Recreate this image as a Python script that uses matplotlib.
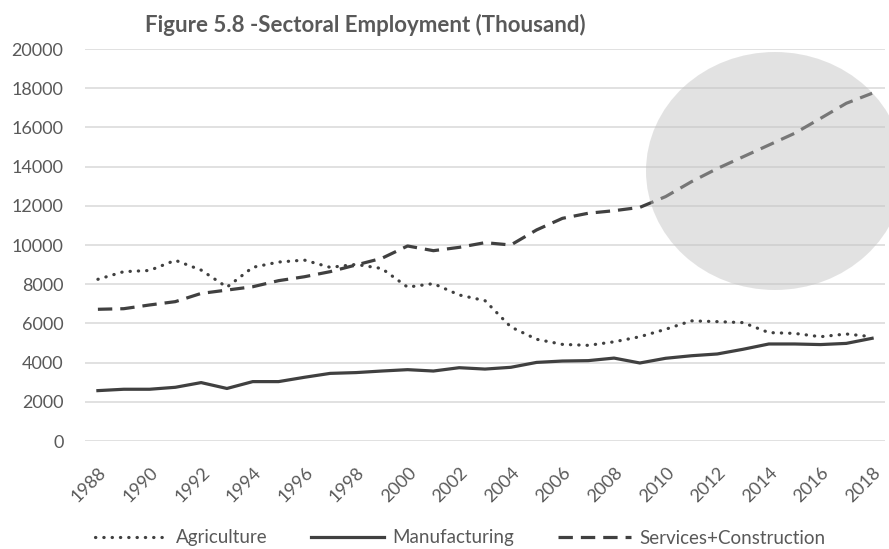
import matplotlib
matplotlib.use("Agg")
import matplotlib.pyplot as plt
import matplotlib.transforms as mtransforms
from matplotlib.patches import Ellipse

plt.rcParams['font.family'] = ['Lato', 'DejaVu Sans']

# Data (thousand persons)
years = list(range(1988, 2019))
agriculture = [8250, 8640, 8700, 9220, 8720, 7850, 8860, 9130, 9230, 8860,
               9010, 8800, 7850, 8030, 7450, 7160, 5820, 5190, 4930, 4880,
               5060, 5320, 5700, 6130, 6090, 6040, 5530, 5490, 5320, 5460, 5320]
manufacturing = [2570, 2640, 2640, 2740, 2980, 2680, 3030, 3030, 3250, 3450,
                 3490, 3570, 3640, 3570, 3740, 3670, 3760, 4010, 4080, 4100,
                 4230, 3980, 4220, 4350, 4440, 4680, 4950, 4950, 4920, 4980, 5240]
services = [6720, 6750, 6940, 7110, 7530, 7700, 7870, 8180, 8380, 8640,
            8980, 9320, 9950, 9710, 9880, 10120, 10000, 10770, 11360, 11620,
            11750, 11920, 12470, 13230, 13900, 14500, 15100, 15700, 16460, 17230, 17740]
yticks = list(range(0, 20001, 2000))

text_color = '#595959'
line_color = '#404040'

fig = plt.figure(figsize=(8.89, 5.49), dpi=100)
ax = fig.add_axes([85 / 889, 1 - 441 / 549, 800 / 889, 392 / 549])

x = list(range(len(years)))
lw = 2.3
ax.plot(x, agriculture, color=line_color, lw=lw, linestyle=(0, (0.1, 2.5)),
        dash_capstyle='round', label='Agriculture', zorder=3)
ax.plot(x, manufacturing, color=line_color, lw=lw, linestyle='-',
        solid_joinstyle='round', label='Manufacturing', zorder=3)
ax.plot(x, services, color=line_color, lw=lw, linestyle=(0, (4.5, 2.5)),
        label='Services+Construction', zorder=3)

ax.set_xlim(-0.5, len(years) - 0.5)
ax.set_ylim(0, 20000)
ax.set_yticks(yticks)
ax.set_yticklabels([str(v) for v in yticks])
ax.set_xticks(x[::2])
ax.set_xticklabels([str(y) for y in years[::2]], rotation=45, ha='right',
                   va='center', rotation_mode='anchor')
ax.tick_params(axis='both', length=0, labelsize=13, labelcolor=text_color)
ax.tick_params(axis='y', pad=15.5)
ax.tick_params(axis='x', pad=21)
# nudge the rotated year labels to the right a little
shift = mtransforms.ScaledTranslation(6 / 100, 0, fig.dpi_scale_trans)
for lab in ax.get_xticklabels():
    lab.set_transform(lab.get_transform() + shift)
ax.grid(axis='y', color='#d9d9d9', lw=1.1)
ax.set_axisbelow(True)
for s in ax.spines.values():
    s.set_visible(False)

# highlight ellipse
ell = Ellipse((775 / 889, 1 - 171 / 549), 258 / 889, 238 / 549,
              transform=fig.transFigure, facecolor='#bfbfbf', alpha=0.44,
              edgecolor='none', zorder=5, clip_on=False)
ax.add_patch(ell)

fig.text(365 / 889, 1 - 25 / 549, 'Figure 5.8 -Sectoral Employment (Thousand)',
         ha='center', va='center', fontsize=16, fontweight='bold', color=text_color)

leg = fig.legend(loc='center', bbox_to_anchor=(460 / 889, 1 - 538 / 549), ncol=3,
                 frameon=False, fontsize=13.5, handlelength=3.9,
                 columnspacing=2.3, handletextpad=0.45, borderpad=0)
for t in leg.get_texts():
    t.set_color(text_color)

fig.savefig('out.png', dpi=100)
